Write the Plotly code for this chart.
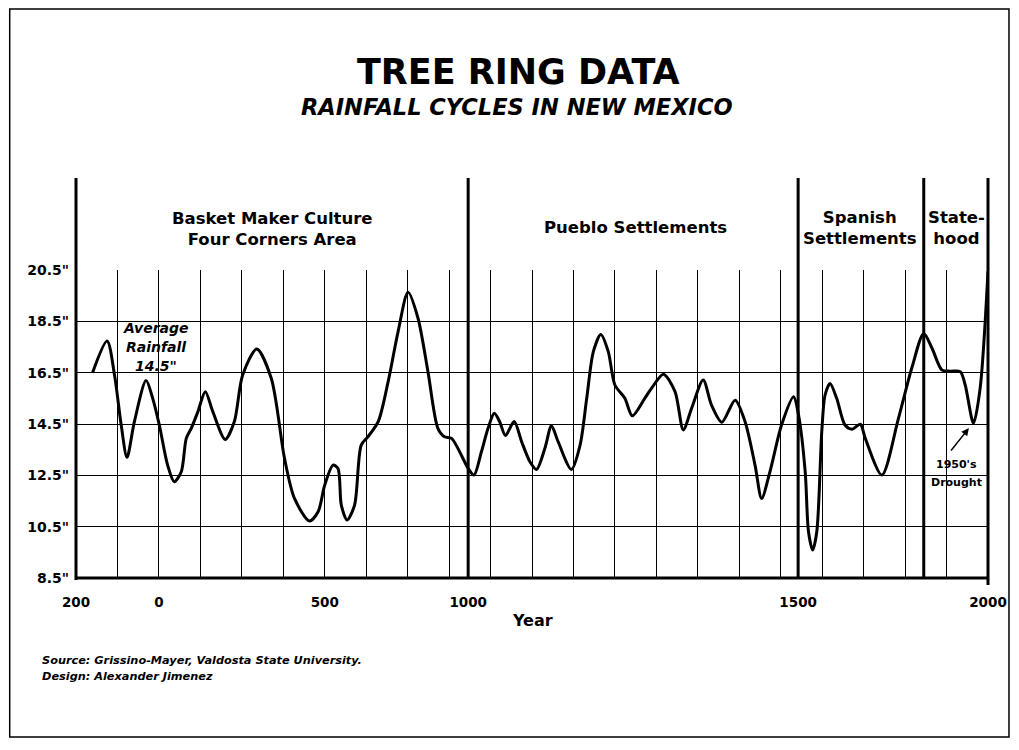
import plotly.graph_objects as go

# ---- data (x in chart grid units: the original's year axis is not linear) ----
grid_pos = [0.40, 0.75, 0.93, 1.09, 1.23, 1.41, 1.69, 1.85, 2.01, 2.21, 2.37, 2.54, 2.66, 2.78,
            2.94, 3.12, 3.30, 3.60, 3.82, 4.02, 4.36, 4.71, 5.03, 5.27, 5.63, 5.84, 6.00, 6.20,
            6.32, 6.40, 6.54, 6.72, 6.88, 7.04, 7.29, 7.53, 7.77, 8.01, 8.25, 8.49, 8.73, 8.89,
            9.06, 9.46, 9.60, 9.78, 9.94, 10.09, 10.22, 10.36, 10.57, 10.75, 10.95, 11.11, 11.31,
            11.47, 11.63, 11.95, 12.16, 12.32, 12.48, 12.66, 12.84, 13.00, 13.24, 13.42, 13.72,
            13.89, 14.17, 14.45, 14.65, 14.85, 15.13, 15.33, 15.58, 15.90, 16.14, 16.38, 16.54,
            16.74, 17.02, 17.31, 17.43, 17.59, 17.67, 17.77, 17.87, 17.99, 18.07, 18.19, 18.35,
            18.55, 18.72, 18.92, 19.04, 19.44, 19.84, 20.16, 20.45, 20.65, 20.89, 21.09, 21.33,
            21.45, 21.65, 21.81, 22.00]
rainfall = [16.5, 17.73, 16.4, 14.46, 13.2, 14.6, 16.19, 15.5, 14.46, 12.9, 12.25, 12.64, 13.94, 14.33,
            14.98, 15.76, 14.98, 13.9, 14.6, 16.41, 17.42, 16.28, 13.16, 11.6, 10.72, 11.08, 12.12, 12.9,
            12.77, 11.34, 10.76, 11.34, 13.68, 14.0, 14.59, 16.15, 18.1, 19.63, 18.62, 16.54, 14.33, 14.0,
            13.94, 12.77, 12.51, 13.42, 14.33, 14.92, 14.59, 14.05, 14.6, 13.81, 13.03, 12.73, 13.55,
            14.43, 13.81, 12.73, 13.68, 15.5, 17.32, 17.99, 17.32, 16.02, 15.5, 14.82, 15.5,
            15.91, 16.44, 15.76, 14.27, 15.11, 16.21, 15.24, 14.57, 15.43, 14.59, 12.9, 11.6,
            12.64, 14.46, 15.56, 14.85, 12.64, 10.3, 9.59, 10.3, 14.2, 15.63, 16.08, 15.5,
            14.46, 14.3, 14.49, 13.94, 12.51, 14.72, 16.67, 18.03, 17.45, 16.6, 16.56, 16.54,
            16.02, 14.53, 15.89, 20.45]

year_tick_pos = [0, 2, 6, 9.46, 17.42, 22]
year_labels = ["200", "0", "500", "1000", "1500", "2000"]
rain_ticks = [8.5, 10.5, 12.5, 14.5, 16.5, 18.5, 20.5]
rain_labels = ['8.5"', '10.5"', '12.5"', '14.5"', '16.5"', '18.5"', '20.5"']
era_pos = [9.46, 17.42, 20.45]
era_labels = [
    ("Basket Maker Culture<br>Four Corners Area", 271, 229),
    ("Pueblo Settlements", 634, 227),
    ("Spanish<br>Settlements", 858, 228),
    ("State-<br>hood", 955, 228),
]

OFF = 8        # page body margin
SX = 0.996     # observed horizontal capture scale
W, H = 1011, 730
L, R, T, B = 67.5, 29, 262, 160
PW, PH = W - L - R, H - T - B


def px(x):
    return (x / SX - OFF - L) / PW


def py(y):
    return (H - B - (y - OFF)) / PH


FONT = "DejaVu Sans"

fig = go.Figure()
fig.add_trace(go.Scatter(
    x=grid_pos, y=rainfall, mode="lines",
    line=dict(color="black", width=3, shape="spline", smoothing=0.8),
    hoverinfo="skip", showlegend=False))

top = py(178)
shapes = []
shapes.append(dict(type="rect", xref="paper", yref="paper", x0=px(9), x1=px(1007), y0=py(737), y1=py(9),
                   line=dict(color="black", width=1.5)))
shapes.append(dict(type="line", xref="paper", yref="paper", x0=0, x1=0, y0=py(580), y1=top,
                   line=dict(color="black", width=3)))
shapes.append(dict(type="line", xref="paper", yref="paper", x0=1, x1=1, y0=py(585), y1=top,
                   line=dict(color="black", width=3)))
shapes.append(dict(type="line", xref="paper", yref="paper", x0=0, x1=1, y0=0, y1=0,
                   line=dict(color="black", width=3)))
for e in era_pos:
    shapes.append(dict(type="line", xref="x", yref="paper", x0=e, x1=e, y0=0, y1=top,
                       line=dict(color="black", width=3)))


def note(text, x, y, size, anchor="center", italic=False):
    if italic:
        text = "<i>" + text.replace("<br>", "</i><br><i>") + "</i>"
    return dict(text=text, x=px(x), y=py(y), xref="paper", yref="paper", showarrow=False,
                xanchor=anchor, yanchor="middle", align="center",
                font=dict(family=FONT, size=size, color="black", weight="bold"))


annotations = [
    note("TREE RING DATA", 517, 72, 35),
    note("RAINFALL CYCLES IN NEW MEXICO", 516, 107, 22.5, italic=True),
]
for text, cx, cy in era_labels:
    annotations.append(note(text, cx, cy, 16.5))
for text, cy in [("Average", 328), ("Rainfall", 347), ('14.5"', 366)]:
    annotations.append(note(text, 155, cy, 14, italic=True))
for text, cy in [("1950's", 464), ("Drought", 482)]:
    annotations.append(note(text, 955, cy, 11))
annotations.append(dict(x=21.54, y=14.34, ax=21.08, ay=13.41, xref="x", yref="y", axref="x", ayref="y",
                        showarrow=True, arrowhead=2, arrowsize=1, arrowwidth=1.5, arrowcolor="black",
                        text=""))
annotations.append(note("Year", 531, 620, 16))
for text, cy in [("Source: Grissino-Mayer, Valdosta State University.", 660),
                 ("Design: Alexander Jimenez", 676)]:
    annotations.append(note(text, 39, cy, 11.3, anchor="left", italic=True))

fig.update_layout(
    width=W, height=H,
    margin=dict(l=L, r=R, t=T, b=B, pad=0),
    paper_bgcolor="white", plot_bgcolor="white",
    showlegend=False,
    shapes=shapes,
    annotations=annotations,
    xaxis=dict(range=[0, 22], tickmode="array", tickvals=year_tick_pos, ticktext=year_labels,
               showgrid=False, zeroline=False, showline=False, ticks="",
               ticklabelstandoff=14,
               tickfont=dict(family=FONT, size=13.5, color="black", weight="bold"),
               minor=dict(tickmode="linear", tick0=0, dtick=1, showgrid=True, gridcolor="black",
                          gridwidth=1.3, ticks="")),
    yaxis=dict(range=[8.5, 20.5], tickmode="array", tickvals=rain_ticks, ticktext=rain_labels,
               showgrid=True, gridcolor="black", gridwidth=1.3, zeroline=False, showline=False,
               ticks="", ticklabelstandoff=6,
               tickfont=dict(family=FONT, size=14, color="black", weight="bold")),
)

fig.write_html("out.html")
